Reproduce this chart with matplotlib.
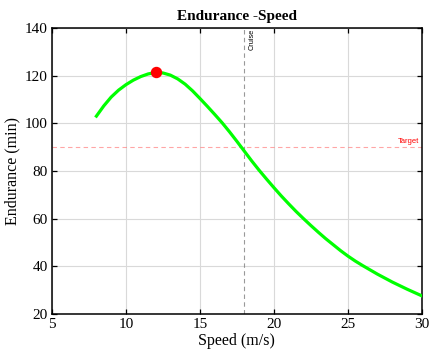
import matplotlib
matplotlib.use("Agg")
import matplotlib.pyplot as plt

# values
speed = [8, 8.5, 9, 9.5, 10, 10.5, 11, 11.5, 12, 12.5, 13, 13.5, 14, 14.5, 15, 15.5,
         16, 16.5, 17, 17.5, 18, 18.5, 19, 19.5, 20, 20.5, 21, 21.5, 22, 22.5,
         23, 23.5, 24, 24.5, 25, 25.5, 26, 27, 28, 29, 30]
endurance = [103.0, 107.3, 111.0, 113.9, 116.2, 118.1, 119.6, 120.7, 121.3, 121.1, 120.2, 118.6,
             116.4, 113.6, 110.4, 107.1, 103.7, 100.2, 96.4, 92.4, 88.3, 84.2, 80.3, 76.6,
             73.0, 69.5, 66.2, 63.0, 60.0, 57.1, 54.3, 51.6, 49.1, 46.6, 44.3, 42.2,
             40.3, 36.7, 33.4, 30.4, 27.6]
best_speed = 12
best_endurance = 121.3
cruise_speed = 18
target_endurance = 90
x_ticks = [5, 10, 15, 20, 25, 30]
y_ticks = [20, 40, 60, 80, 100, 120, 140]

plt.rcParams['font.family'] = ['Liberation Serif', 'DejaVu Serif']

fig = plt.figure(figsize=(4.3, 3.58), dpi=100)
ax = fig.add_axes([0.121, 0.123, 0.86, 0.799])

ax.plot(speed, endurance, color='#00ff00', lw=2.3, solid_joinstyle='round', zorder=3)
ax.plot(best_speed, best_endurance, 'o', color='red', markersize=7.2, zorder=4)

# 순항 속도 / 목표 체공시간 기준선
ax.axvline(cruise_speed, color='gray', ls='--', lw=0.8, dashes=(4, 3), alpha=0.8, zorder=2)
ax.axhline(target_endurance, color='#ff8080', ls='--', lw=0.8, dashes=(4, 3), alpha=0.7, zorder=2)
ax.text(cruise_speed + 0.3, 139.5, 'Cruise', rotation=90, ha='left', va='top',
        fontsize=5.3, family=['Liberation Sans', 'DejaVu Sans'])
ax.text(29.85, target_endurance + 0.8, 'Target', ha='right', va='bottom', color='red',
        fontsize=5.5, family=['Liberation Sans', 'DejaVu Sans'])

ax.set_xlim(5, 30)
ax.set_ylim(20, 140)
ax.set_xticks(x_ticks)
ax.set_yticks(y_ticks)
ax.grid(True, color='#d9d9d9', lw=0.8)
ax.set_axisbelow(True)
ax.tick_params(direction='in', top=True, right=True, length=3.5, width=0.9,
               labelsize=11, pad=3)
for s in ax.spines.values():
    s.set_linewidth(1.1)

ax.set_xlabel('Speed (m/s)', fontsize=11.5, labelpad=1)
ax.set_ylabel('Endurance (min)', fontsize=11.5, labelpad=3)
ax.set_title('Endurance -Speed', fontsize=11, fontweight='bold', pad=6)

fig.savefig('out.png', dpi=100)
